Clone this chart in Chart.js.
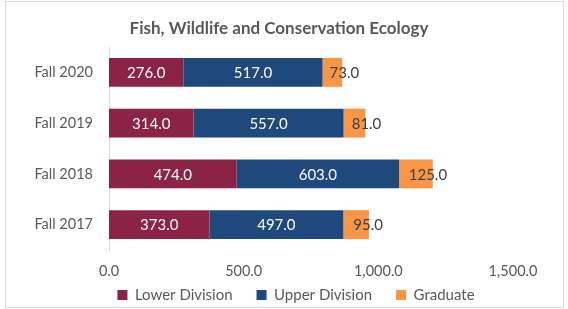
<!DOCTYPE html>
<html>
<head>
<meta charset="utf-8">
<script src="https://cdn.jsdelivr.net/npm/chart.js@4"></script>
<style>
  html, body { margin:0; padding:0; background:#fff; }
  #wrap { width:568px; height:309px; position:relative; }
</style>
</head>
<body>
<div id="wrap"><canvas id="c" width="568" height="309"></canvas></div>
<script>
const terms    = ['Fall 2020', 'Fall 2019', 'Fall 2018', 'Fall 2017'];
const lowerDiv = [276, 314, 474, 373];
const upperDiv = [517, 557, 603, 497];
const graduate = [73, 81, 125, 95];

const FONT = 'Lato, "DejaVu Sans", sans-serif';
const fmt = v => Number(v).toLocaleString('en-US', { minimumFractionDigits:1, maximumFractionDigits:1 });

// light frame round the whole chart, like the Excel chart area
const frame = {
  id:'frame',
  beforeDraw(chart) {
    const c = chart.ctx;
    c.save();
    c.strokeStyle = '#d9d9d9'; c.lineWidth = 1;
    c.strokeRect(5.5, 1.5, 558, 306);
    c.restore();
  }
};

// Excel places title/legend a bit off the plot centre; nudge the blocks
const nudge = {
  id:'nudge',
  afterLayout(chart) {
    const move = (box, cx) => {
      if (!box) return;
      const d = cx - (box.left + box.right) / 2;
      box.left += d; box.right += d;
    };
    move(chart.titleBlock, 279);
    const lg = chart.legend;
    move(lg, 296);
    if (lg) {
      const pad = lg.options.labels.padding;
      const top = 295 - pad - 7.5;   // legend text centre at y=295
      lg.bottom = top + lg.height; lg.top = top;
    }
    // the x box is squeezed for layout; give its labels room again (they are clipped to the box)
    const x = chart.scales.x;
    x.bottom = x.top + 36;
  }
};

// value labels in the middle of each segment
const valueLabels = {
  id:'valueLabels',
  afterDatasetsDraw(chart) {
    const c = chart.ctx;
    c.save();
    c.font = '15px ' + FONT;
    c.textAlign = 'center'; c.textBaseline = 'middle';
    chart.data.datasets.forEach((ds, di) => {
      chart.getDatasetMeta(di).data.forEach((bar, i) => {
        const mid = (bar.x + bar.base) / 2;
        const grad = di === 2;
        c.fillStyle = grad ? '#404040' : '#ffffff';
        c.fillText(fmt(ds.data[i]), grad ? mid + 12 : mid, bar.y + 1);
      });
    });
    c.restore();
  }
};

new Chart(document.getElementById('c'), {
  type:'bar',
  data:{
    labels:terms,
    datasets:[
      { label:'Lower Division', data:lowerDiv, backgroundColor:'#8b2346' },
      { label:'Upper Division', data:upperDiv, backgroundColor:'#1f497d' },
      { label:'Graduate',       data:graduate, backgroundColor:'#f79646' },
    ]
  },
  options:{
    indexAxis:'y',
    responsive:false,
    animation:false,
    events:[],
    barPercentage:0.57,
    categoryPercentage:1,
    layout:{ padding:{ left:0, right:55, top:0, bottom:0 } },
    plugins:{
      title:{
        display:true, text:'Fish, Wildlife and Conservation Ecology',
        color:'#595959', font:{ family:FONT, size:17, weight:'bold' },
        padding:{ top:18, bottom:8.6 }
      },
      legend:{
        position:'bottom',
        labels:{ color:'#595959', font:{ family:FONT, size:15 }, boxWidth:10, boxHeight:10, padding:24 }
      },
      tooltip:{ enabled:false }
    },
    scales:{
      x:{
        stacked:true, min:0, max:1500,
        grid:{ display:false, drawTicks:false }, border:{ display:false },
        ticks:{ stepSize:500, color:'#595959', font:{ family:FONT, size:14.5 }, padding:13, callback:v => fmt(v) },
        afterFit(s) { s.height = 10; }
      },
      y:{
        stacked:true,
        grid:{ display:false, drawTicks:false },
        border:{ display:true, color:'#d9d9d9' },
        ticks:{ color:'#595959', font:{ family:FONT, size:14.5 }, padding:16 },
        afterFit(s) { s.width = 109; }
      }
    }
  },
  plugins:[frame, nudge, valueLabels]
});
</script>
</body>
</html>
